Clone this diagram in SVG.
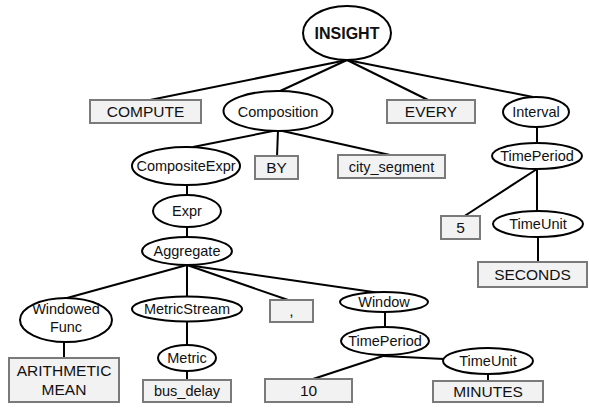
<svg xmlns="http://www.w3.org/2000/svg" width="589" height="409" viewBox="0 0 589 409">
<style>
.e{fill:#fff;stroke:#000;stroke-width:2}
.b{fill:#f2f2f2;stroke:#7a7a7a;stroke-width:2}
.t{font-family:"Liberation Sans",Arial,sans-serif;font-size:14.5px;fill:#111;text-anchor:middle}
.u{font-size:15.5px}
.c line{stroke:#000;stroke-width:2}
</style>
<rect width="589" height="409" fill="#fff"/>
<g class="c" id="connectors">
<line x1="347" y1="60" x2="150" y2="100"/>
<line x1="347" y1="60" x2="278" y2="92"/>
<line x1="347" y1="60" x2="428" y2="100"/>
<line x1="347" y1="60" x2="533" y2="97"/>
<line x1="278" y1="130" x2="193" y2="147"/>
<line x1="278" y1="130" x2="277" y2="157"/>
<line x1="278" y1="130" x2="390" y2="155"/>
<line x1="537" y1="127" x2="537" y2="143"/>
<line x1="537" y1="169" x2="463" y2="217"/>
<line x1="537" y1="169" x2="537" y2="211"/>
<line x1="538" y1="237" x2="538" y2="263"/>
<line x1="187" y1="185" x2="187" y2="195"/>
<line x1="187" y1="227" x2="187" y2="238"/>
<line x1="187" y1="265" x2="67" y2="298"/>
<line x1="187" y1="265" x2="187" y2="297"/>
<line x1="187" y1="265" x2="291" y2="301"/>
<line x1="187" y1="265" x2="380" y2="293"/>
<line x1="64" y1="342" x2="64" y2="359"/>
<line x1="187" y1="321" x2="187" y2="345"/>
<line x1="187" y1="371" x2="187" y2="381"/>
<line x1="385" y1="312" x2="385" y2="327"/>
<line x1="383" y1="356" x2="310" y2="380"/>
<line x1="383" y1="356" x2="444" y2="359"/>
<line x1="488" y1="374" x2="488" y2="382"/>
</g>
<g id="insight"><ellipse class="e" cx="347" cy="33" rx="44" ry="27"/><text class="t" x="347" y="39" style="font-weight:bold;font-size:16px">INSIGHT</text></g>
<g id="compute"><rect class="b" x="90" y="100" width="111" height="23"/><text class="t u" x="145.5" y="117">COMPUTE</text></g>
<g id="composition"><ellipse class="e" cx="278" cy="111" rx="54.5" ry="20"/><text class="t" x="278" y="117">Composition</text></g>
<g id="every"><rect class="b" x="387" y="100" width="88" height="23"/><text class="t u" x="431" y="117">EVERY</text></g>
<g id="interval"><ellipse class="e" cx="536" cy="112" rx="33" ry="15"/><text class="t" x="536" y="117">Interval</text></g>
<g id="timeperiod1"><ellipse class="e" cx="537" cy="156" rx="45" ry="13"/><text class="t" x="537" y="161">TimePeriod</text></g>
<g id="five"><rect class="b" x="441" y="216" width="39" height="23"/><text class="t u" x="460.5" y="233">5</text></g>
<g id="timeunit1"><ellipse class="e" cx="538" cy="224" rx="45" ry="13"/><text class="t" x="538" y="229">TimeUnit</text></g>
<g id="seconds"><rect class="b" x="478" y="262" width="109" height="25"/><text class="t u" x="532.5" y="280">SECONDS</text></g>
<g id="compositeexpr"><ellipse class="e" cx="186" cy="166" rx="54" ry="19"/><text class="t" x="186" y="171">CompositeExpr</text></g>
<g id="by"><rect class="b" x="255" y="156" width="43" height="23"/><text class="t u" x="276.5" y="173">BY</text></g>
<g id="citysegment"><rect class="b" x="338" y="155" width="107" height="23"/><text class="t" x="391.5" y="172">city_segment</text></g>
<g id="expr"><ellipse class="e" cx="187" cy="211" rx="34" ry="16"/><text class="t" x="187" y="216">Expr</text></g>
<g id="aggregate"><ellipse class="e" cx="187" cy="251" rx="45" ry="14"/><text class="t" x="187" y="256">Aggregate</text></g>
<g id="windowedfunc"><ellipse class="e" cx="66" cy="320" rx="46" ry="22"/><text class="t" x="66" y="314">Windowed</text><text class="t" x="66" y="332">Func</text></g>
<g id="metricstream"><ellipse class="e" cx="187" cy="309" rx="55" ry="12.5"/><text class="t" x="187" y="314">MetricStream</text></g>
<g id="comma"><rect class="b" x="270" y="300" width="43" height="22"/><text class="t u" x="291.5" y="316">,</text></g>
<g id="window"><ellipse class="e" cx="384" cy="302" rx="44" ry="10"/><text class="t" x="384" y="307">Window</text></g>
<g id="arithmeticmean"><rect class="b" x="9" y="358" width="110" height="44"/><text class="t u" x="64" y="376">ARITHMETIC</text><text class="t u" x="64" y="395">MEAN</text></g>
<g id="metric"><ellipse class="e" cx="187" cy="358" rx="29" ry="13"/><text class="t" x="187" y="363">Metric</text></g>
<g id="busdelay"><rect class="b" x="143" y="380" width="88" height="22"/><text class="t" x="187" y="396">bus_delay</text></g>
<g id="timeperiod2"><ellipse class="e" cx="385" cy="341" rx="44" ry="14"/><text class="t" x="385" y="346">TimePeriod</text></g>
<g id="ten"><rect class="b" x="265" y="379" width="87" height="23"/><text class="t u" x="308.5" y="396">10</text></g>
<g id="timeunit2"><ellipse class="e" cx="488" cy="361" rx="45" ry="13"/><text class="t" x="488" y="366">TimeUnit</text></g>
<g id="minutes"><rect class="b" x="433" y="381" width="110" height="21"/><text class="t u" x="488" y="397">MINUTES</text></g>
</svg>
